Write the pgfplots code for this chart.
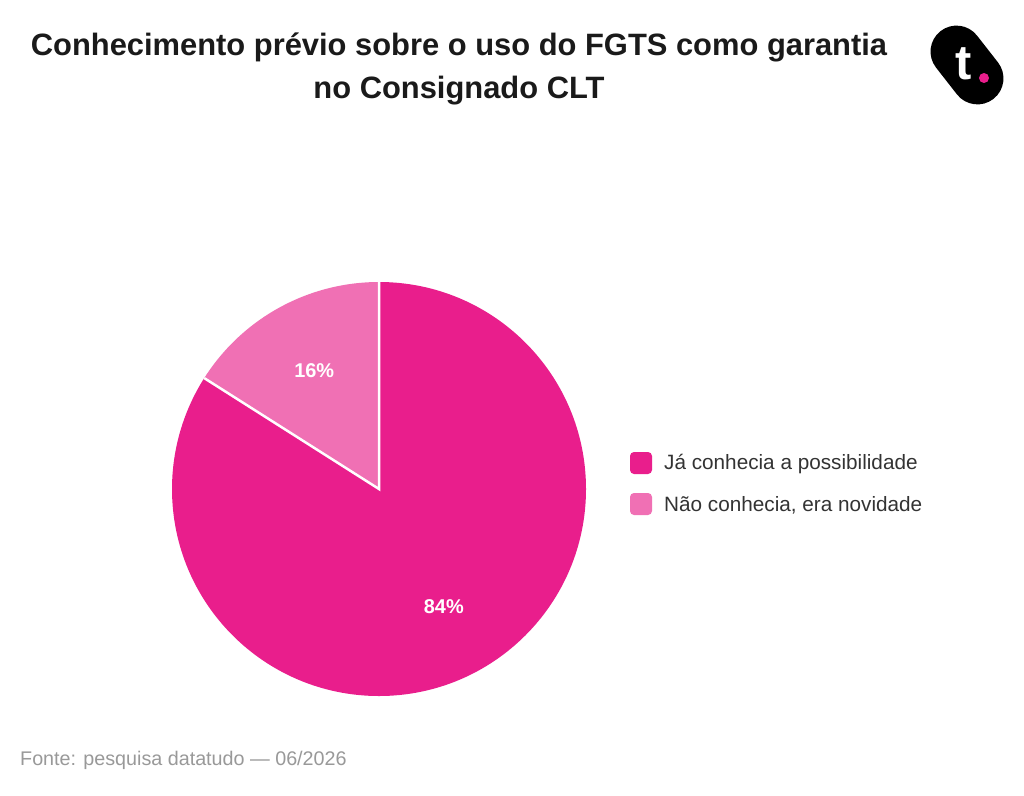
\documentclass[border=0pt]{standalone}
\usepackage{pgfplots}
\pgfplotsset{compat=1.18}
\usepackage{pgfplotstable}
\usepackage{fontspec}
\setmainfont{Liberation Sans}
\definecolor{darkpink}{RGB}{233,30,140}
\definecolor{lightpink}{RGB}{240,112,180}
\definecolor{titlegray}{RGB}{26,26,26}
\definecolor{legtext}{RGB}{51,51,51}
\definecolor{srcgray}{RGB}{153,153,153}
\pgfplotstableread{
label value
Ja 84
Nao 16
}\piedata
\pgfplotstablegetelem{0}{value}\of\piedata
\let\va\pgfplotsretval
\pgfplotstablegetelem{1}{value}\of\piedata
\let\vb\pgfplotsretval
\pgfmathsetmacro\angA{90-3.6*\va}
\pgfmathsetmacro\midA{90-1.8*\va}
\pgfmathsetmacro\midB{\angA-1.8*\vb}
\begin{document}
\begin{tikzpicture}[x=1bp,y=1bp]
\path[fill=white] (0,0) rectangle (1024,-796);
% title
\node[anchor=base, text=titlegray, font=\fontsize{31}{34}\selectfont\bfseries] at (459,-56) {Conhecimento prévio sobre o uso do FGTS como garantia};
\node[anchor=base, text=titlegray, font=\fontsize{31}{34}\selectfont\bfseries] at (459,-99) {no Consignado CLT};
% logo
\begin{scope}[shift={(967,-65)}, rotate=-52]
\fill[black, rounded corners=26bp] (-43,-26) rectangle (43,26);
\end{scope}
\node[anchor=base, text=white, font=\fontsize{49}{52}\selectfont\bfseries, inner sep=0pt] at (964,-80) {t};
\fill[darkpink] (984,-78) circle[radius=5];
% pie
\begin{axis}[at={(379bp,-489bp)}, anchor=center, width=414bp, height=414bp, scale only axis,
  xmin=-1, xmax=1, ymin=-1, ymax=1, hide axis, clip=false]
\fill[darkpink] (axis cs:0,0) -- (axis cs:0,1) arc[start angle=90, end angle=\angA, radius=207bp] -- cycle;
\fill[lightpink] (axis cs:0,0) -- (axis cs:{cos(\angA)},{sin(\angA)}) arc[start angle=\angA, end angle=-270, radius=207bp] -- cycle;
\draw[white, line width=2.5bp] (axis cs:{cos(\angA)},{sin(\angA)}) -- (axis cs:0,0) -- (axis cs:0,1);
\node[text=white, font=\fontsize{20}{22}\selectfont\bfseries] at (axis cs:{0.65*cos(\midA)},{0.65*sin(\midA)}) {\va\%};
\node[text=white, font=\fontsize{20}{22}\selectfont\bfseries] at (axis cs:{0.65*cos(\midB)},{0.65*sin(\midB)}) {\vb\%};
\end{axis}
% legend
\fill[darkpink, rounded corners=4bp] (630,-452) rectangle (652,-474);
\fill[lightpink, rounded corners=4bp] (630,-493) rectangle (652,-515);
\node[anchor=base west, inner sep=0pt, text=legtext, font=\fontsize{20.8}{24}\selectfont] at (664,-469) {Já conhecia a possibilidade};
\node[anchor=base west, inner sep=0pt, text=legtext, font=\fontsize{20.8}{24}\selectfont] at (664,-511) {Não conhecia, era novidade};
% source
\node[anchor=base west, inner sep=0pt, text=srcgray, font=\fontsize{19.8}{24}\selectfont] at (20,-765) {Fonte: pesquisa datatudo — 06/2026};
\end{tikzpicture}
\end{document}
